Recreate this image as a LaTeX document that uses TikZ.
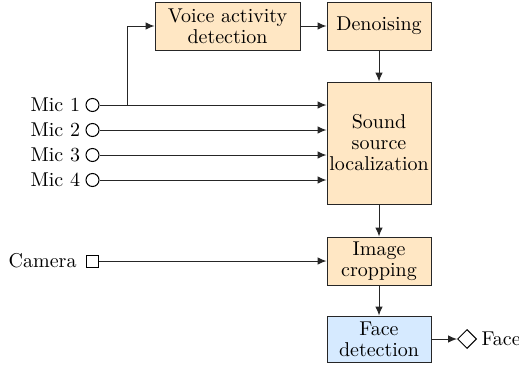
\documentclass[tikz,border=0pt]{standalone}
\usepackage{tikz}
\usepackage{amsmath,amssymb}
\usetikzlibrary{shapes.geometric,positioning,arrows.meta}
\definecolor{procorange}{RGB}{255,231,196}
\definecolor{detblue}{RGB}{214,234,255}

\begin{document}
\begin{tikzpicture}[x=0.5pt,y=-0.5pt,line width=0.5pt,
   block/.style={draw=black!85,fill=procorange,align=center,inner sep=1pt,minimum width=52pt,minimum height=24pt,font=\fontsize{10}{10.5}\selectfont},
   mic/.style={draw,circle,inner sep=0pt,minimum size=6.5pt},
   tag/.style={inner sep=0pt},
   flow/.style={black!85,-{Latex[length=4.5pt,width=3.8pt]}}]
   \useasboundingbox (0,0) rectangle (519,364);
   \node[block,minimum width=72.5pt] (vad) at (227.5,26) {Voice activity\\detection};
   \node[block] (denoise) at (379,26) {Denoising};
   \node[block,minimum height=61pt] (ssl) at (379,143) {Sound\\source\\localization};
   \node[block] (crop) at (379,261) {Image\\cropping};
   \node[block,fill=detblue,minimum height=23pt] (facedet) at (379,339) {Face\\detection};
   \node[mic] (mic1) at (92.5,105) {};
   \node[mic] (mic2) at (92.5,130) {};
   \node[mic] (mic3) at (92.5,155) {};
   \node[mic] (mic4) at (92.5,180) {};
   \node[tag,left=2.5pt of mic1] (mic1txt) {Mic 1};
   \node[tag,left=2.5pt of mic2] (mic2txt) {Mic 2};
   \node[tag,left=2.5pt of mic3] (mic3txt) {Mic 3};
   \node[tag,left=2.5pt of mic4] (mic4txt) {Mic 4};
   \node[draw,inner sep=0pt,minimum size=6pt] (cam) at (92.5,261) {};
   \node[tag,left=4.5pt of cam] (camtxt) {Camera};
   \node[draw,diamond,inner sep=0pt,minimum size=9.5pt] (out) at (467,339) {};
   \node[tag,right=2pt of out] (outtxt) {Face};
   \coordinate (split) at (127,105);
   \draw[flow] (mic1) -- (mic1 -| ssl.west);
   \draw[flow] (mic2) -- (mic2 -| ssl.west);
   \draw[flow] (mic3) -- (mic3 -| ssl.west);
   \draw[flow] (mic4) -- (mic4 -| ssl.west);
   \draw[flow] (split) |- (vad.west);
   \draw[flow] (vad) -- (denoise);
   \draw[flow] (denoise) -- (ssl);
   \draw[flow] (ssl) -- (crop);
   \draw[flow] (cam) -- (cam -| crop.west);
   \draw[flow] (crop) -- (facedet);
   \draw[flow] (facedet) -- (out);
\end{tikzpicture}
\end{document}
